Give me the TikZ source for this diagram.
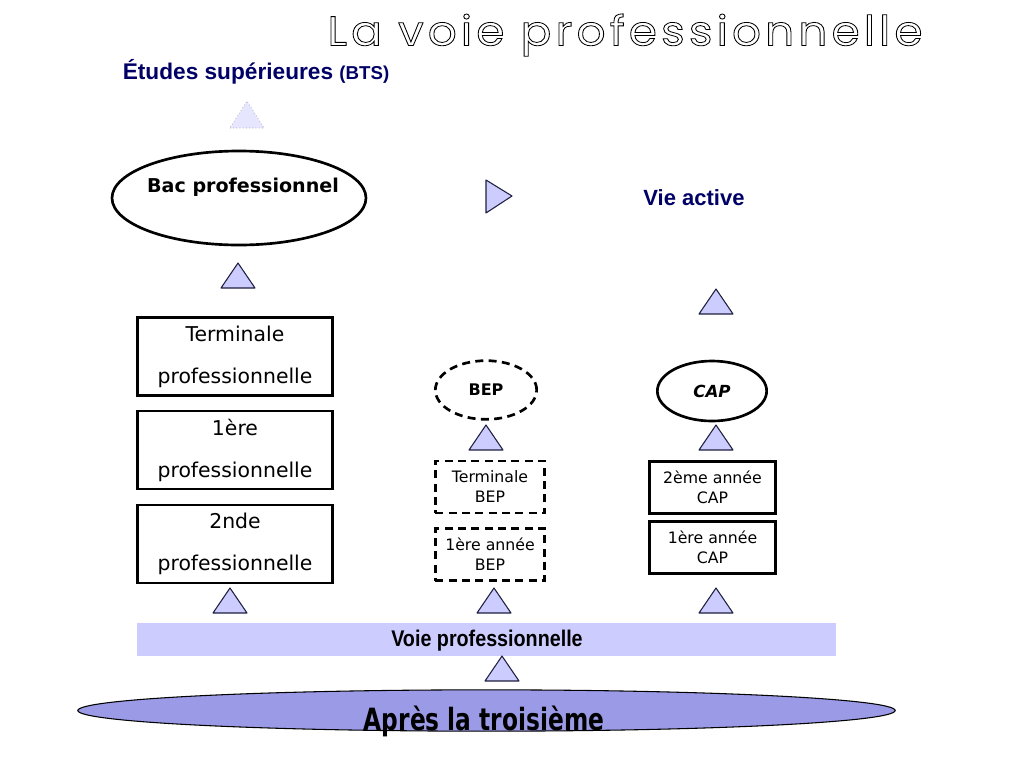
\documentclass[tikz,border=0pt]{standalone}
\usepackage{fontspec}
\setmainfont{DejaVu Sans}
\newfontfamily\arialfont{Liberation Sans}
\newfontfamily\titlefont[LetterSpace=9]{Poppins}
\usetikzlibrary{shapes.geometric}
\definecolor{navy}{HTML}{000066}
\definecolor{lavande}{HTML}{CCCCFF}
\definecolor{lilas}{HTML}{9A9AE6}
\definecolor{trait}{HTML}{1F1F40}
\begin{document}
\begin{tikzpicture}[x=0.75pt,y=-0.75pt,
  fleche/.style={fill=lavande,draw=trait,line width=0.8pt,line join=round},
  classe/.style={draw,line width=2.2pt,align=center,inner sep=0pt},
  grande/.style={classe,minimum width=146pt,minimum height=58.5pt,
    font=\fontsize{15.3}{31.5}\selectfont},
  petite/.style={classe,font=\fontsize{11.8}{15}\selectfont},
  diplome/.style={ellipse,draw,line width=2pt,inner sep=0pt}]
\useasboundingbox (0,0) rectangle (1024,768);

% titre
\node [xscale=1.1,font=\titlefont\fontsize{31}{31}\selectfont] (titre) at (625,35)
  {\special{pdf:literal direct 1 Tr 0.6 w}La voie professionnelle\special{pdf:literal direct 0 Tr}};
\node [text=navy,font=\arialfont\bfseries\fontsize{17}{20}\selectfont] (bts) at (256,72)
  {Études supérieures {\fontsize{14}{16}\selectfont(BTS)}};
\node [text=navy,font=\arialfont\bfseries\fontsize{16.5}{20}\selectfont] (vie) at (694,198) {Vie active};

% bac pro
\node [diplome,minimum width=190.5pt,minimum height=70.5pt] (bac) at (239,198) {};
\node [font=\bfseries\fontsize{14.3}{17}\selectfont] (bactexte) at (243,187) {Bac professionnel};
\node [grande] (term) at (235,356.5) {Terminale\\professionnelle};
\node [grande] (prem) at (235,450) {1ère\\professionnelle};
\node [grande] (sec) at (235,544) {2nde\\professionnelle};

% BEP
\node [diplome,dashed,dash pattern=on 6pt off 4pt,minimum width=76pt,minimum height=44pt,
  font=\bfseries\fontsize{12}{14}\selectfont] (bep) at (486,390) {BEP};
\node [petite,dashed,dash pattern=on 6pt off 4pt,minimum width=82pt,minimum height=39pt] (tbep) at (490,487) {Terminale\\BEP};
\node [petite,dashed,dash pattern=on 6pt off 4pt,minimum width=82pt,minimum height=39pt] (pbep) at (490,554.5) {1ère année\\BEP};

% CAP
\node [diplome,minimum width=82pt,minimum height=45pt,
  font=\bfseries\itshape\fontsize{12.5}{14}\selectfont] (cap) at (712,391) {CAP};
\node [petite,minimum width=94.5pt,minimum height=39pt] (dcap) at (712.5,487.5) {2ème année\\CAP};
\node [petite,minimum width=94.5pt,minimum height=39pt] (pcap) at (712.5,547.5) {1ère année\\CAP};

% bandeau et troisieme
\node [fill=lavande,minimum width=524pt,minimum height=25pt,inner sep=0pt] (voie) at (486.5,639.5) {};
\node [xscale=0.87,font=\arialfont\bfseries\fontsize{17}{20}\selectfont] (voietexte) at (487,641) {Voie professionnelle};
\node [ellipse,draw,fill=lilas,line width=0.8pt,minimum width=613pt,minimum height=31pt,inner sep=0pt] (trois) at (486.5,710.5) {};
\node [xscale=0.76,font=\bfseries\fontsize{23}{26}\selectfont] (troistexte) at (484,721) {Après la troisième};

% triangles
\filldraw [fill=lavande!50,draw=black!50,dotted] (230,128)--(264,128)--(247,101)--cycle;
\foreach \x/\y in {238/276, 716/302, 230/601, 486/438, 494/601, 716/438, 716/601, 502/669}
  \filldraw [fleche] (\x-17,\y+12)--(\x+17,\y+12)--(\x,\y-13)--cycle;
\filldraw [fleche] (486,180)--(486,213)--(512,196)--cycle;
\end{tikzpicture}
\end{document}
